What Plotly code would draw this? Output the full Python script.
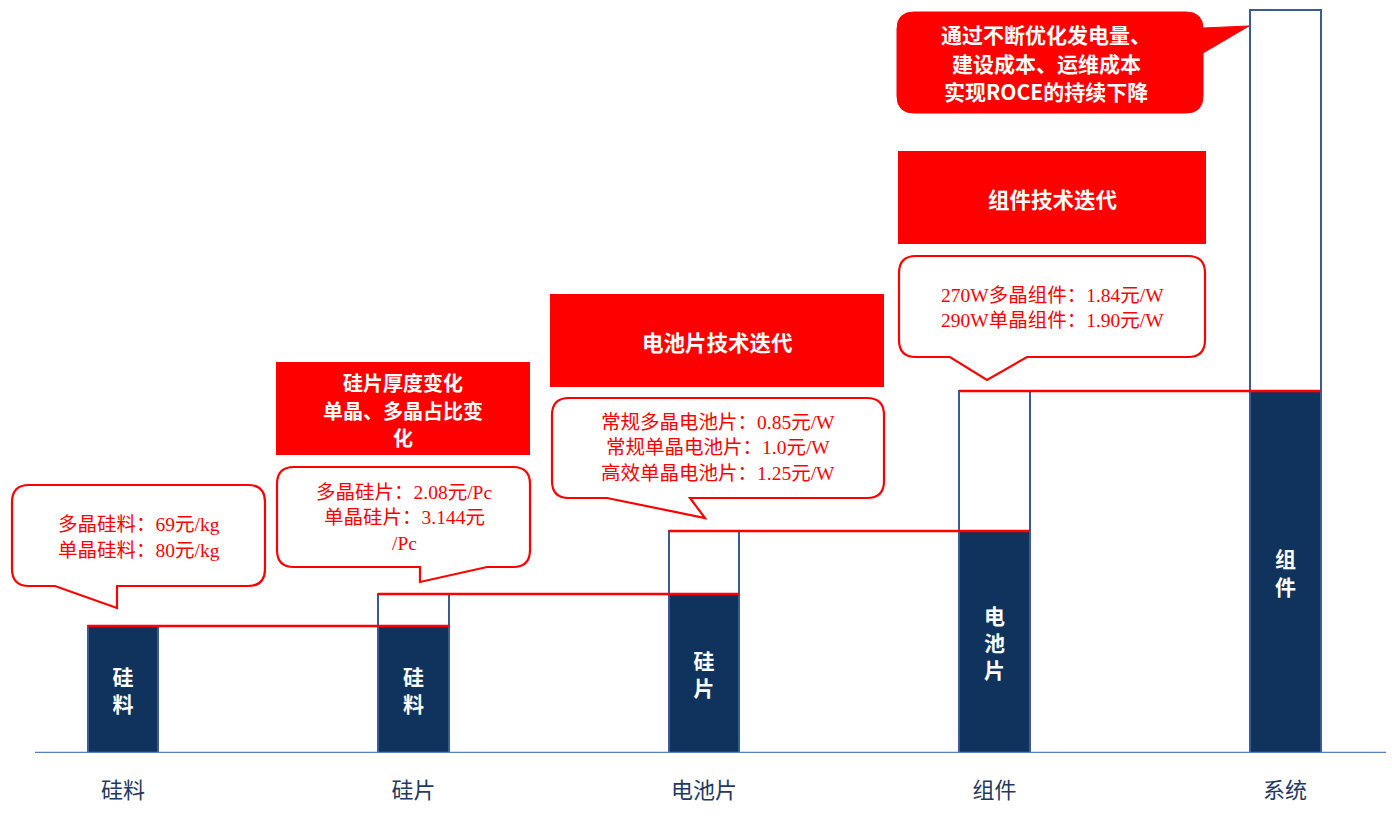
import plotly.graph_objects as go

# ---------------- data ----------------
categories = ["硅料", "硅片", "电池片", "组件", "系统"]
dark_labels = ["硅料", "硅料", "硅片", "电池片", "组件"]
base_values = [12.7, 12.7, 15.9, 22.2, 36.2]      # dark (carried-over) part
added_values = [None, 3.2, 6.3, 14.0, 38.1]       # white (added) part
totals = [12.7, 15.9, 22.2, 36.2, 74.3]

bubble_texts = [
    ["多晶硅料：69元/kg", "单晶硅料：80元/kg"],
    ["多晶硅片：2.08元/Pc", "单晶硅片：3.144元", "/Pc"],
    ["常规多晶电池片：0.85元/W", "常规单晶电池片：1.0元/W", "高效单晶电池片：1.25元/W"],
    ["270W多晶组件：1.84元/W", "290W单晶组件：1.90元/W"],
]
header_texts = [
    ["硅片厚度变化", "单晶、多晶占比变", "化"],
    ["电池片技术迭代"],
    ["组件技术迭代"],
]
system_text = ["通过不断优化发电量、", "建设成本、运维成本", "实现ROCE的持续下降"]

# ---------------- style ----------------
W, H = 1392, 821
PLOT_TOP, PLOT_BOTTOM = 3, 753
RED = "#FF0000"
NAVY = "#10335D"
OUTLINE = "#3A5A98"
BASELINE = "#5A7EC5"
TICKCOL = "#1F3864"
SERIF = "Liberation Serif, Noto Sans CJK SC, serif"
SANS = "Noto Sans CJK SC, sans-serif"
BAR_W = 0.244
x_idx = list(range(len(categories)))


def fx(px):
    return px / W


def fy(py):
    return (PLOT_BOTTOM - py) / (PLOT_BOTTOM - PLOT_TOP)


def P(x, y):
    return f"{fx(x):.5f},{fy(y):.5f}"


def bubble_path(x0, y0, x1, y1, r, bottom_tail=None, right_tail=None):
    d = f"M {P(x0 + r, y0)} L {P(x1 - r, y0)} Q {P(x1, y0)} {P(x1, y0 + r)} "
    for pt in (right_tail or []):
        d += f"L {P(*pt)} "
    d += f"L {P(x1, y1 - r)} Q {P(x1, y1)} {P(x1 - r, y1)} "
    for pt in (bottom_tail or []):
        d += f"L {P(*pt)} "
    d += f"L {P(x0 + r, y1)} Q {P(x0, y1)} {P(x0, y1 - r)} L {P(x0, y0 + r)} Q {P(x0, y0)} {P(x0 + r, y0)} Z"
    return d


fig = go.Figure()

fig.add_trace(go.Bar(
    x=x_idx, y=base_values, width=BAR_W,
    marker=dict(color=NAVY, line=dict(color=OUTLINE, width=2)),
    text=["<br>".join(list(s)) for s in dark_labels],
    textposition="inside", insidetextanchor="middle", textangle=0,
    textfont=dict(family=SANS, size=21, color="white", weight="bold"),
    hoverinfo="skip", showlegend=False,
))
fig.add_trace(go.Bar(
    x=x_idx, y=added_values, width=BAR_W,
    marker=dict(color="white", line=dict(color=OUTLINE, width=2)),
    hoverinfo="skip", showlegend=False,
))

# red connecting lines
for i in range(len(totals) - 1):
    fig.add_trace(go.Scatter(
        x=[x_idx[i] - BAR_W / 2, x_idx[i + 1] + BAR_W / 2],
        y=[totals[i], totals[i]], mode="lines",
        line=dict(color=RED, width=2.5), hoverinfo="skip", showlegend=False,
    ))

shapes = []
annotations = []


def add_lines(lines, cx, cy_first, spacing, font):
    for k, line in enumerate(lines):
        annotations.append(dict(xref="paper", yref="paper", x=fx(cx), y=fy(cy_first + k * spacing),
                                xanchor="center", yanchor="middle", showarrow=False,
                                borderpad=0, text=line, font=font))


# baseline
shapes.append(dict(type="line", xref="paper", yref="y",
                   x0=fx(35), x1=fx(1386), y0=0, y1=0,
                   line=dict(color=BASELINE, width=2.5), layer="above"))

# outlined bubbles (geometry in pixels)
bubbles = [
    dict(box=(12, 485, 265, 586), bottom=[(117, 586), (117, 608), (55, 586)], cy=524, cx=139, sp=26),
    dict(box=(277, 467, 530, 567), bottom=[(487, 567), (420, 582), (420, 567)], cy=492, cx=404, sp=25.5),
    dict(box=(552, 398, 884, 498), bottom=[(690, 498), (705, 518), (607, 498)], cy=422, cx=718, sp=25.5),
    dict(box=(899, 256, 1205, 357), bottom=[(1027, 357), (987, 380), (950, 357)], cy=295, cx=1052, sp=25.5),
]
for b, lines in zip(bubbles, bubble_texts):
    x0, y0, x1, y1 = b["box"]
    shapes.append(dict(type="path", xref="paper", yref="paper",
                       path=bubble_path(x0, y0, x1, y1, 17, bottom_tail=b["bottom"]),
                       fillcolor="white", line=dict(color=RED, width=2.2)))
    add_lines(lines, b["cx"], b["cy"], b["sp"], dict(family=SERIF, size=19.5, color=RED))

# filled red header boxes
headers = [
    dict(box=(276, 362, 530, 455), cx=403, cy=383, sp=27, size=20),
    dict(box=(550, 294, 884, 387), cx=717, cy=341, sp=0, size=21.5),
    dict(box=(898, 151, 1206, 244), cx=1052, cy=199, sp=0, size=21.5),
]
for hd, lines in zip(headers, header_texts):
    x0, y0, x1, y1 = hd["box"]
    shapes.append(dict(type="rect", xref="paper", yref="paper",
                       x0=fx(x0), x1=fx(x1), y0=fy(y1), y1=fy(y0),
                       fillcolor=RED, line=dict(width=0)))
    add_lines(lines, hd["cx"], hd["cy"], hd["sp"],
              dict(family=SANS, size=hd["size"], color="white", weight="bold"))

# filled red bubble for system
shapes.append(dict(type="path", xref="paper", yref="paper",
                   path=bubble_path(897, 12, 1203, 113, 17,
                                    right_tail=[(1203, 28), (1249, 26), (1203, 53)]),
                   fillcolor=RED, line=dict(color=RED, width=1)))
add_lines(system_text, 1046, 34, 28.5, dict(family=SANS, size=21, color="white", weight="bold"))

fig.update_layout(
    width=W, height=H, autosize=False,
    margin=dict(l=0, r=0, t=PLOT_TOP, b=H - PLOT_BOTTOM, pad=0),
    paper_bgcolor="white", plot_bgcolor="white",
    barmode="stack", bargap=0,
    xaxis=dict(range=[-0.4234, 4.368], tickvals=x_idx, ticktext=categories,
               showgrid=False, zeroline=False, showline=False, ticks="",
               tickfont=dict(family=SERIF, size=22, color=TICKCOL),
               ticklabelstandoff=22, fixedrange=True),
    yaxis=dict(range=[0, 75], visible=False, showgrid=False, zeroline=False, fixedrange=True),
    shapes=shapes, annotations=annotations,
)

fig.write_html("out.html")
